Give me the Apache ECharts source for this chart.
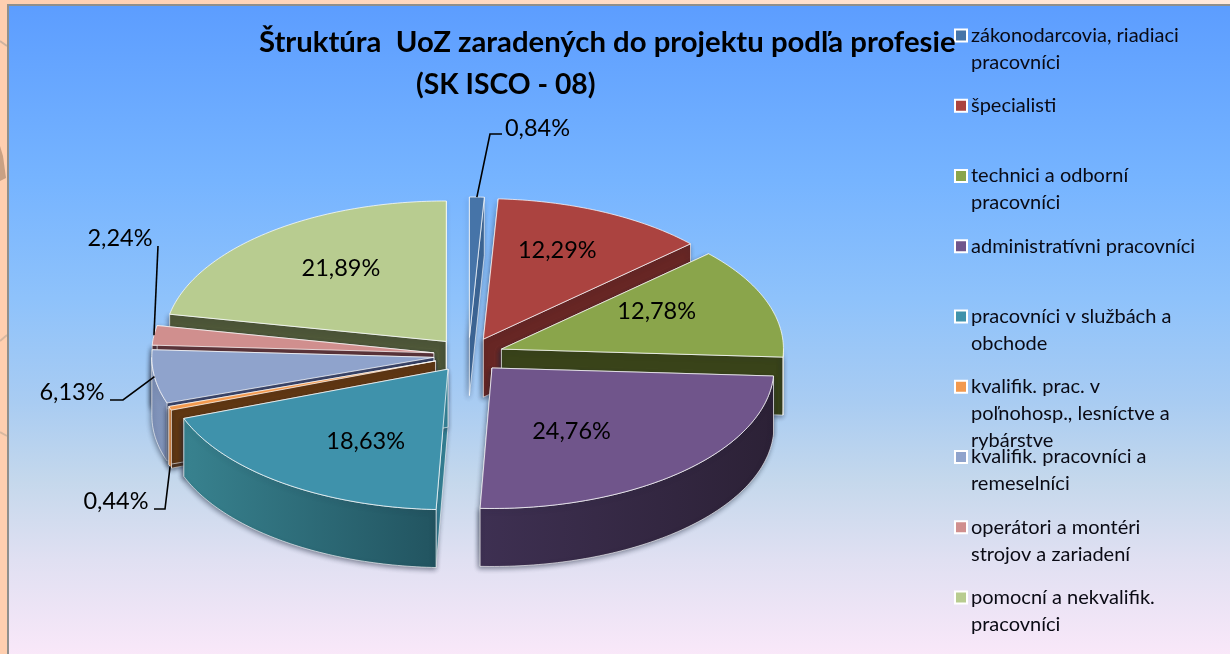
<!DOCTYPE html>
<html><head><meta charset="utf-8">
<style>html,body{margin:0;padding:0;background:#ffcfb0}#c{width:1230px;height:654px}</style>
<script src="https://cdn.jsdelivr.net/npm/echarts@6/dist/echarts.min.js"></script>
</head><body><div id="c"></div>
<script>
// ---- data ----
const categories = [
  'zákonodarcovia, riadiaci\npracovníci',
  'špecialisti',
  'technici a odborní\npracovníci',
  'administratívni pracovníci',
  'pracovníci v službách a\nobchode',
  'kvalifik. prac. v\npoľnohosp., lesníctve a\nrybárstve',
  'kvalifik. pracovníci a\nremeselníci',
  'operátori a montéri\nstrojov a zariadení',
  'pomocní a nekvalifik.\npracovníci'
];
const shares = [0.84, 12.29, 12.78, 24.76, 18.63, 0.44, 6.13, 2.24, 21.89];
const titleLines = ['Štruktúra  UoZ zaradených do projektu podľa profesie', '(SK ISCO - 08)'];

// ---- styles ----
const topColors  = ['#4674a8','#ab4340','#8aa54b','#70558b','#3f92ab','#f2994e','#8fa3cc','#d08f8e','#b8cc90'];
const cutColors  = ['#3d6797','#672624','#394319','#2d2237','#358296','#5f3612','#3a4468','#5c3439','#4e5738'];
const wallLeft   = ['#4674a8','#672624','#4a5a22','#3e3052','#38828f','#e08a42','#7c8fb6','#b07a7a','#8a9a68'];
const wallRight  = ['#3d6797','#672624','#394319','#2c2136','#225460','#c97a38','#8497bd','#a87272','#7e8e5e'];

// ---- layout ----
const CX = 468.5, CY = 355, RX = 282, RY = 140.5, DEPTH = 58, EX = 35, EY = 17.5;
const LABEL_FRACTION = 0.6;
// nudges for the in-slice labels (relative to the computed anchor); null = external with leader
const labelNudge = [null,[2,-12],[-4,-9],[-34,1],[17,4],null,null,null,[2,-8]];
// external labels: text centre, leader elbow, leader end, and whether leader starts at bottom of wall
const outside = {
  0:{text:[537.5,128],elbow:[490,134],end:[502,134],wall:false},
  5:{text:[116,501],elbow:[165,509],end:[154,509],wall:true},
  6:{text:[72,392],elbow:[123,400],end:[110,400],wall:false},
  7:{text:[120,238],elbow:[158,246],end:[158,246],wall:false}
};
const LEG_X = 954, LEG_Y = 35.5, LEG_STEP = 70.25;

// ---- geometry derived from the values ----
const total = shares.reduce((a,b)=>a+b,0);
let acc = 0;
const slices = shares.map((v,i)=>{
  const a1 = acc/total*360; acc += v; const a2 = acc/total*360;
  const mid = (a1+a2)/2, r = mid*Math.PI/180;
  return {i,v,a1,a2,mid,ax:CX+EX*Math.sin(r),ay:CY-EY*Math.cos(r)};
});
const rim = (s,deg,d)=>{const t=deg*Math.PI/180;return [s.ax+RX*Math.sin(t),s.ay-RY*Math.cos(t)+(d||0)];};
const arcPts = (s,a,b,d)=>{const n=Math.max(2,Math.ceil(Math.abs(b-a)));const p=[];for(let k=0;k<=n;k++)p.push(rim(s,a+(b-a)*k/n,d));return p;};
const drawOrder = slices.slice().sort((p,q)=>(-Math.cos(p.mid*Math.PI/180))-(-Math.cos(q.mid*Math.PI/180))).map(s=>s.i);
const fmt = v=>v.toFixed(2).replace('.',',')+'%';
const EDGE = 'rgba(255,255,255,.62)';
const SHADOW = {shadowColor:'rgba(30,40,60,.5)',shadowBlur:5,shadowOffsetX:-1,shadowOffsetY:2};

function renderSlice(params, api){
  const s = slices[api.value(0)], i = s.i, ch = [];
  const apex = [s.ax,s.ay], apexD = [s.ax,s.ay+DEPTH];
  const cut = deg=>({type:'polygon',silent:true,shape:{points:[apex,rim(s,deg),rim(s,deg,DEPTH),apexD]},
    style:Object.assign({fill:cutColors[i],stroke:EDGE,lineWidth:1},SHADOW)});
  ch.push(cut(s.a1)); ch.push(cut(s.a2));
  const f1 = Math.max(s.a1,90), f2 = Math.min(s.a2,270);
  if(f2>f1){
    const pts = arcPts(s,f1,f2,0).concat(arcPts(s,f2,f1,DEPTH));
    ch.push({type:'polygon',silent:true,shape:{points:pts},style:Object.assign({
      fill:new echarts.graphic.LinearGradient(0,0,1,0,[{offset:0,color:wallLeft[i]},{offset:1,color:wallRight[i]}]),
      stroke:EDGE,lineWidth:1},SHADOW)});
  }
  ch.push({type:'polygon',silent:true,shape:{points:[apex].concat(arcPts(s,s.a1,s.a2,0))},
    style:{fill:topColors[i],stroke:'rgba(255,255,255,.72)',lineWidth:1}});
  return {type:'group',children:ch};
}
function renderLabel(params, api){
  const s = slices[api.value(0)], i = s.i, ch = [];
  let tx, ty;
  if(outside[i]){
    const o = outside[i]; tx=o.text[0]; ty=o.text[1];
    const p = rim(s,s.mid,o.wall?DEPTH:0);
    ch.push({type:'polyline',silent:true,shape:{points:[p,o.elbow,o.end]},style:{fill:'none',stroke:'#000',lineWidth:1.6}});
  } else {
    const r = s.mid*Math.PI/180, n = labelNudge[i];
    tx = s.ax+RX*LABEL_FRACTION*Math.sin(r)+n[0];
    ty = s.ay-RY*LABEL_FRACTION*Math.cos(r)+n[1];
  }
  ch.push({type:'text',silent:true,x:tx,y:ty,style:{text:fmt(s.v),fill:'#000',font:'23.5px Lato',align:'center',verticalAlign:'middle'}});
  return {type:'group',children:ch};
}
function renderLegend(params, api){
  const i = api.value(0), y = LEG_Y+i*LEG_STEP;
  return {type:'group',children:[
    {type:'rect',silent:true,shape:{x:LEG_X+1,y:y-6,width:12,height:12},style:{fill:topColors[i],stroke:'#fff',lineWidth:2}},
    {type:'text',silent:true,x:LEG_X+17,y:y-13.5,style:{text:categories[i],fill:'#0a0a14',font:'20px Lato',lineHeight:27,align:'left',verticalAlign:'top'}}
  ]};
}

const chart = echarts.init(document.getElementById('c'),null,{renderer:'canvas'});
chart.setOption({
  animation:false,
  backgroundColor:'#ffcfb0',
  title:[
    {text:titleLines[0],left:259,top:28,textStyle:{fontFamily:'Lato',fontWeight:'bold',fontSize:29.3,color:'#000'},padding:0},
    {text:titleLines[1],left:416,top:71,textStyle:{fontFamily:'Lato',fontWeight:'bold',fontSize:28.3,color:'#000'},padding:0}
  ],
  graphic:[
    {type:'rect',z:-10,silent:true,shape:{x:0,y:0,width:1230,height:5},style:{fill:new echarts.graphic.LinearGradient(0,0,1,0,[{offset:0,color:'#ffcfb0'},{offset:1,color:'#ffe9dc'}])}},
    {type:'polygon',z:-9,silent:true,shape:{points:[[0,146],[3,156],[6,178],[0,181]]},style:{fill:'#c9a184'}},
    {type:'polyline',z:-9,silent:true,shape:{points:[[0,41],[7,46]]},style:{stroke:'#cdb3a0',lineWidth:2,fill:'none'}},
    {type:'polyline',z:-9,silent:true,shape:{points:[[0,341],[7,335]]},style:{stroke:'#d8b8a0',lineWidth:2,fill:'none'}},
    {type:'polyline',z:-9,silent:true,shape:{points:[[0,432],[7,436]]},style:{stroke:'#d8b8a0',lineWidth:2,fill:'none'}},
    {type:'rect',z:-8,silent:true,shape:{x:8,y:5,width:1224,height:652},style:{
      fill:new echarts.graphic.LinearGradient(0,0,0,1,[
        {offset:0,color:'#5c9dff'},{offset:.27,color:'#76b4ff'},{offset:.45,color:'#8ec2fb'},
        {offset:.61,color:'#a9ccf2'},{offset:.73,color:'#c5d8ec'},{offset:.85,color:'#e0e0f2'},{offset:1,color:'#fae8f9'}]),
      stroke:'#908f8c',lineWidth:2}}
  ],
  series:[
    {type:'custom',coordinateSystem:'none',name:'slices',z:2,data:drawOrder.map(i=>[i,shares[i]]),renderItem:renderSlice,silent:true},
    {type:'custom',coordinateSystem:'none',name:'labels',z:3,data:shares.map((v,i)=>[i,v]),renderItem:renderLabel,silent:true},
    {type:'custom',coordinateSystem:'none',name:'legend',z:4,data:categories.map((c,i)=>[i]),renderItem:renderLegend,silent:true}
  ]
});
</script></body></html>
